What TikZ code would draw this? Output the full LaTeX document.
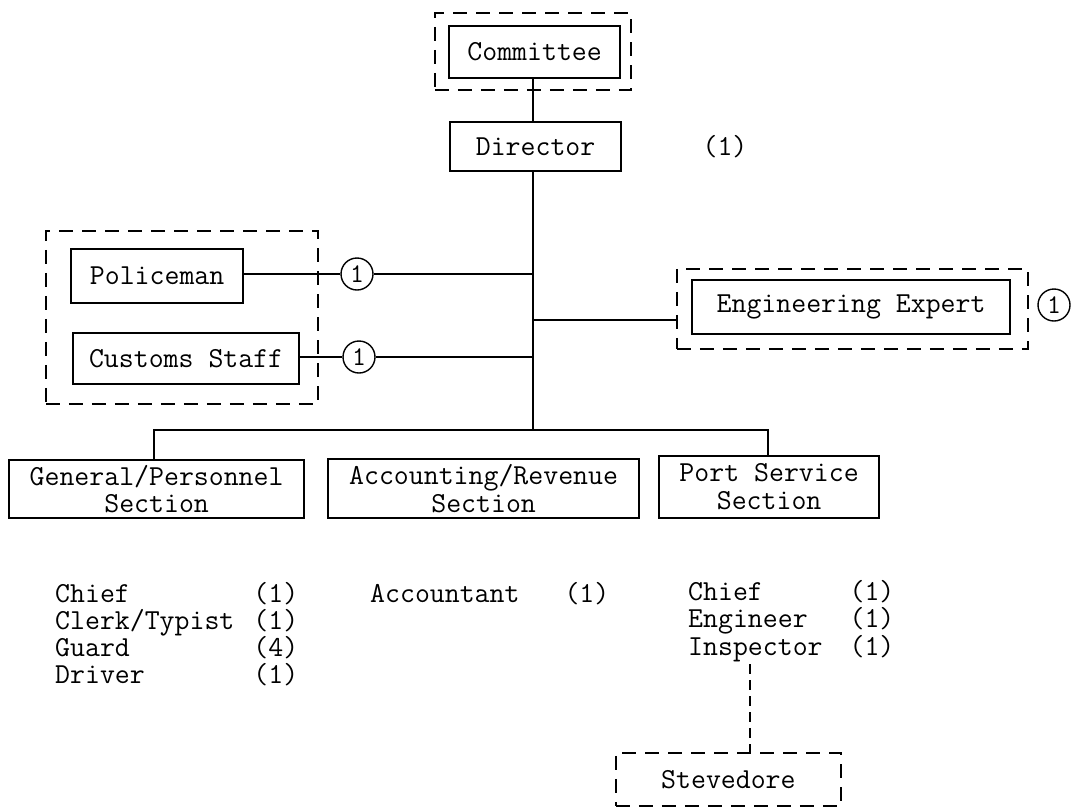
\documentclass[tikz,border=0pt]{standalone}
\usepackage{fontspec}
\begin{document}
\begin{tikzpicture}[x=1pt,y=-1pt,
  every node/.style={font=\ttfamily\fontsize{29}{28}\selectfont},
  solidbox/.style={draw, line width=2.2pt, inner sep=0pt, anchor=north west, align=center},
  dashbox/.style={draw, line width=1.8pt, dash pattern=on 14pt off 9pt, inner sep=0pt, anchor=north west},
  numcirc/.style={circle, draw, line width=1.4pt, minimum size=32pt, inner sep=0pt, font=\ttfamily\fontsize{27}{28}\selectfont},
  conn/.style={line width=1.5pt},
  dconn/.style={line width=1.6pt, dash pattern=on 10pt off 6pt},
  listlab/.style={anchor=base west, inner sep=0pt}]
\useasboundingbox (0,0) rectangle (1071,807);

% Committee and Director
\node[dashbox, minimum width=196pt, minimum height=77pt] (comD) at (434,12) {};
\node[solidbox, minimum width=171pt, minimum height=52pt] (committee) at (448,25) {Committee};
\node[solidbox, minimum width=171pt, minimum height=49pt] (director) at (449,121) {Director};
\node[anchor=center] (dirnum) at (725,147) {(1)};

% left group
\node[dashbox, minimum width=272pt, minimum height=173pt] (leftD) at (45,230) {};
\node[solidbox, minimum width=172pt, minimum height=54pt] (police) at (70,248) {Policeman};
\node[solidbox, minimum width=226pt, minimum height=51pt] (customs) at (72,332) {Customs Staff};
\node[numcirc] (c1) at (357,274) {1};
\node[numcirc] (c2) at (359,357) {1};

% engineering expert
\node[dashbox, minimum width=351pt, minimum height=80pt] (engD) at (676,268) {};
\node[solidbox, minimum width=318pt, minimum height=54pt] (eng) at (691,279) {Engineering Expert};
\node[numcirc] (c3) at (1054,305) {1};

% sections
\node[solidbox, minimum width=295pt, minimum height=58pt] (gen) at (8,459) {General/Personnel\\Section};
\node[solidbox, minimum width=311pt, minimum height=59pt] (acc) at (327,458) {Accounting/Revenue\\Section};
\node[solidbox, minimum width=220pt, minimum height=62pt] (port) at (658,455) {Port Service\\Section};

% junctions
\coordinate (j1) at (533,274);
\coordinate (j3) at (533,320);
\coordinate (j2) at (533,357);
\coordinate (jb) at (533,430);
\coordinate (bl) at (154,430);
\coordinate (br) at (768,430);

\draw[conn] (committee.south -| j1) -- (director.north -| j1);
\draw[conn] (director.south -| j1) -- (jb);
\draw[conn] (police.east |- j1) -- (c1.west);
\draw[conn] (c1.east) -- (j1);
\draw[conn] (customs.east |- j2) -- (c2.west);
\draw[conn] (c2.east) -- (j2);
\draw[conn] (j3) -- (engD.west |- j3);
\draw[conn] (gen.north -| bl) -- (bl) -- (br) -- (port.north -| br);

% lists
\node[listlab, font=\ttfamily\fontsize{29}{24}\selectfont] (glist) at (55,602)
  {\begin{tabular}[t]{@{}l@{\hspace{19pt}}l@{}}
   Chief & (1)\\ Clerk/Typist & (1)\\ Guard & (4)\\ Driver & (1)
   \end{tabular}};
\node[listlab] (alist) at (370,602)
  {\begin{tabular}[t]{@{}l@{\hspace{45pt}}l@{}} Accountant & (1) \end{tabular}};
\node[listlab, font=\ttfamily\fontsize{29}{25.5}\selectfont] (plist) at (688,600)
  {\begin{tabular}[t]{@{}l@{\hspace{27pt}}l@{}}
   Chief & (1)\\ Engineer & (1)\\ Inspector & (1)
   \end{tabular}};

% stevedore
\node[dashbox, minimum width=225pt, minimum height=53pt] (stev) at (615,752) {Stevedore};
\coordinate (sj) at (750,664);
\draw[dconn] (sj) -- (stev.north -| sj);
\end{tikzpicture}
\end{document}
